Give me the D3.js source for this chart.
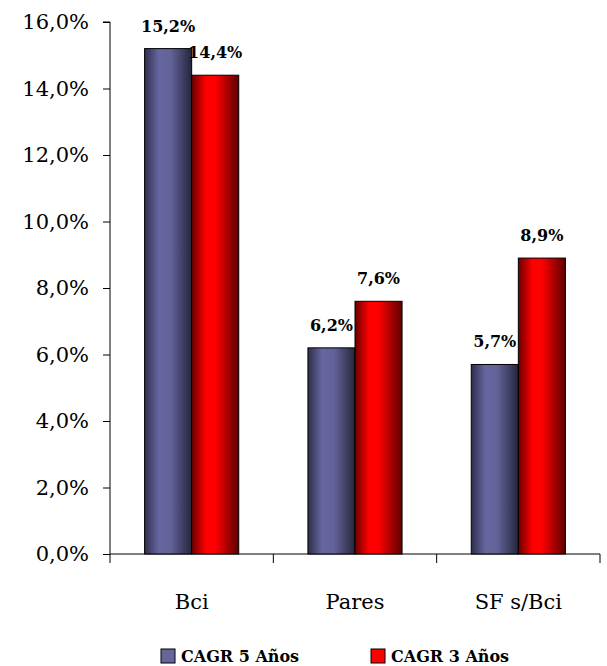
<!DOCTYPE html>
<html>
<head>
<meta charset="utf-8">
<script src="https://cdn.jsdelivr.net/npm/d3@7"></script>
<style>
  body { margin: 0; background: #fff; }
</style>
</head>
<body>
<div id="chart"></div>
<script>
// Datos
const categories = ["Bci", "Pares", "SF s/Bci"];
const seriesNames = ["CAGR 5 Años", "CAGR 3 Años"];
const cagr5 = [15.2, 6.2, 5.7];
const cagr3 = [14.4, 7.6, 8.9];
const yTicks = [0, 2, 4, 6, 8, 10, 12, 14, 16];

const width = 607, height = 666;
const margin = { left: 110, right: 7, top: 22, bottom: 112 };
const FONT = "'DejaVu Serif', serif";

const svg = d3.select("#chart").append("svg")
  .attr("width", width).attr("height", height)
  .attr("font-family", FONT);

// Degradados horizontales para las barras
const defs = svg.append("defs");
function grad(id, stops) {
  const g = defs.append("linearGradient").attr("id", id)
    .attr("x1", "0%").attr("x2", "100%").attr("y1", "0%").attr("y2", "0%");
  stops.forEach(s => g.append("stop").attr("offset", s[0]).attr("stop-color", s[1]));
}
grad("gBlue", [["0%", "#2e2e4c"], ["30%", "#6666a0"], ["55%", "#63639a"], ["100%", "#25253c"]]);
grad("gRed", [["0%", "#6a0000"], ["30%", "#ff0000"], ["50%", "#ff0000"], ["100%", "#5c0000"]]);
const fills = ["url(#gBlue)", "url(#gRed)"];
const legendFills = ["#66669a", "#ff0000"];

const x = d3.scaleBand().domain(categories)
  .range([margin.left, width - margin.right]);
const xSub = d3.scaleBand().domain([0, 1])
  .range([0, x.bandwidth()]).paddingInner(0).paddingOuter(0.735);
const y = d3.scaleLinear().domain([0, 16])
  .range([height - margin.bottom, margin.top]);

// Ejes
const yAxis = d3.axisLeft(y).tickValues(yTicks).tickSize(7).tickPadding(14)
  .tickFormat(d => d.toFixed(1).replace(".", ",") + "%");
const gy = svg.append("g").attr("transform", `translate(${margin.left},0)`).call(yAxis)
  .attr("font-family", FONT);
gy.select(".domain").attr("d", `M-7,${y(16)}H0V${y(0)}`);
gy.selectAll("text").attr("font-size", 21).attr("fill", "#000");

const xAxis = d3.axisBottom(x).tickSize(0).tickPadding(40);
const gx = svg.append("g").attr("transform", `translate(0,${y(0)})`).call(xAxis)
  .attr("font-family", FONT);
gx.select(".domain").attr("d", `M${margin.left},0H${width - margin.right}`);
gx.selectAll("text").attr("font-size", 21).attr("fill", "#000");
// marcas entre categorías
const edges = categories.map(c => x(c)).concat([x(categories[2]) + x.bandwidth()]);
gx.selectAll(".sep").data(edges).enter().append("line")
  .attr("x1", d => d).attr("x2", d => d).attr("y1", 0).attr("y2", 9)
  .attr("stroke", "#000");

// Barras
const rows = categories.map((c, i) => ({ c, vals: [cagr5[i], cagr3[i]] }));
const groups = svg.selectAll(".grp").data(rows).enter().append("g")
  .attr("transform", d => `translate(${x(d.c)},0)`);

groups.selectAll("rect").data(d => d.vals).enter().append("rect")
  .attr("x", (d, i) => xSub(i))
  .attr("width", xSub.bandwidth())
  .attr("y", d => y(d))
  .attr("height", d => y(0) - y(d))
  .attr("fill", (d, i) => fills[i])
  .attr("stroke", "#000").attr("stroke-width", 1);

groups.selectAll(".lbl").data(d => d.vals).enter().append("text")
  .attr("x", (d, i) => xSub(i) + xSub.bandwidth() / 2)
  .attr("y", d => y(d) - 17)
  .attr("text-anchor", "middle")
  .attr("font-size", 16).attr("font-weight", "bold")
  .text(d => d.toFixed(1).replace(".", ",") + "%");

// Leyenda
const legX = [161, 371];
const leg = svg.selectAll(".leg").data(seriesNames).enter().append("g")
  .attr("transform", (d, i) => `translate(${legX[i]},649)`);
leg.append("rect").attr("width", 14).attr("height", 14)
  .attr("fill", (d, i) => legendFills[i]).attr("stroke", "#000");
leg.append("text").attr("x", 20).attr("y", 13)
  .attr("font-size", 16).attr("font-weight", "bold").text(d => d);
</script>
</body>
</html>
